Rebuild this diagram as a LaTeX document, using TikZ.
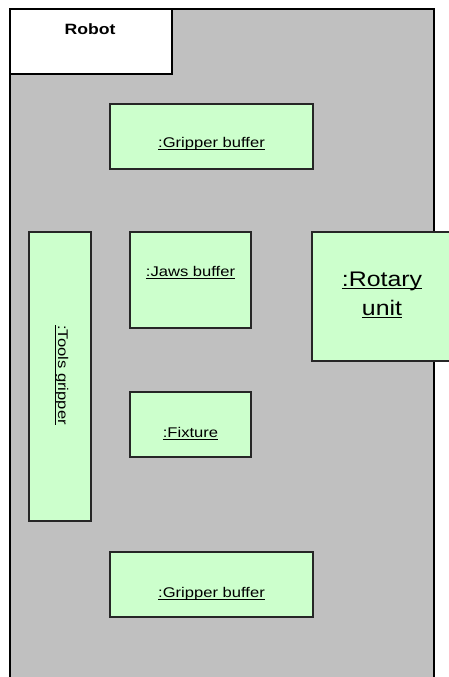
\documentclass[tikz,border=0pt]{standalone}
\usepackage{fontspec}
\setmainfont{Liberation Sans}[FakeStretch=1.18]
\usetikzlibrary{positioning}

\definecolor{partgreen}{HTML}{CCFFCC}
\definecolor{framegray}{HTML}{C0C0C0}
\newsavebox{\ulbox}
\newcommand{\ulname}[1]{\sbox{\ulbox}{#1}\rlap{\rule[-1.6pt]{\wd\ulbox}{0.5pt}}\usebox{\ulbox}}

\tikzset{
  frame/.style={draw=black, line width=1.1pt, inner sep=0pt, anchor=north west},
  part/.style={draw=black!85, line width=0.9pt, fill=partgreen, inner sep=0pt},
  partname/.style={font=\fontsize{8}{9.6}\selectfont, inner sep=0pt, anchor=base},
}

\begin{document}
\begin{tikzpicture}[x=0.02cm, y=-0.02cm]
\useasboundingbox (0,0) rectangle (449,677);
\clip (0,0) rectangle (449,677);

\node[frame, fill=framegray, minimum width=8.48cm, minimum height=14cm] (robot) at (9,8) {};
\node[frame, fill=white, minimum width=3.24cm, minimum height=1.3cm] (robottab) at (robot.north west) {};
\node[font=\bfseries\fontsize{8.5}{10}\selectfont, inner sep=0pt, anchor=base] (robotname) at (90,34) {Robot};

\node[part, minimum width=4.06cm, minimum height=1.3cm] (gbtop) at (211.5,136.5) {};
\node[part, minimum width=2.42cm, minimum height=1.92cm] (jaws) at (190.5,280) {};
\node[part, minimum width=1.24cm, minimum height=5.78cm] (tools) at (60,376.5) {};
\node[part, minimum width=2.8cm, minimum height=2.58cm] (rotary) at (382,296.5) {};
\node[part, minimum width=2.42cm, minimum height=1.3cm] (fixture) at (190.5,424.5) {};
\node[part, minimum width=4.06cm, minimum height=1.3cm] (gbbottom) at (211.5,584.5) {};

\node[partname] (gbtopname) at (211.5,147) {\ulname{:Gripper buffer}};
\node[partname] (jawsname) at (190.5,276) {\ulname{:Jaws buffer}};
\node[partname, rotate=-90] (toolsname) at (58,375) {\ulname{:Tools gripper}};
\node[partname, font=\fontsize{12}{16.5}\selectfont, align=center] (rotaryname) at (382,315) {\ulname{:Rotary}\\\ulname{unit}};
\node[partname] (fixturename) at (190.5,437) {\ulname{:Fixture}};
\node[partname] (gbbottomname) at (211.5,597) {\ulname{:Gripper buffer}};
\end{tikzpicture}
\end{document}
